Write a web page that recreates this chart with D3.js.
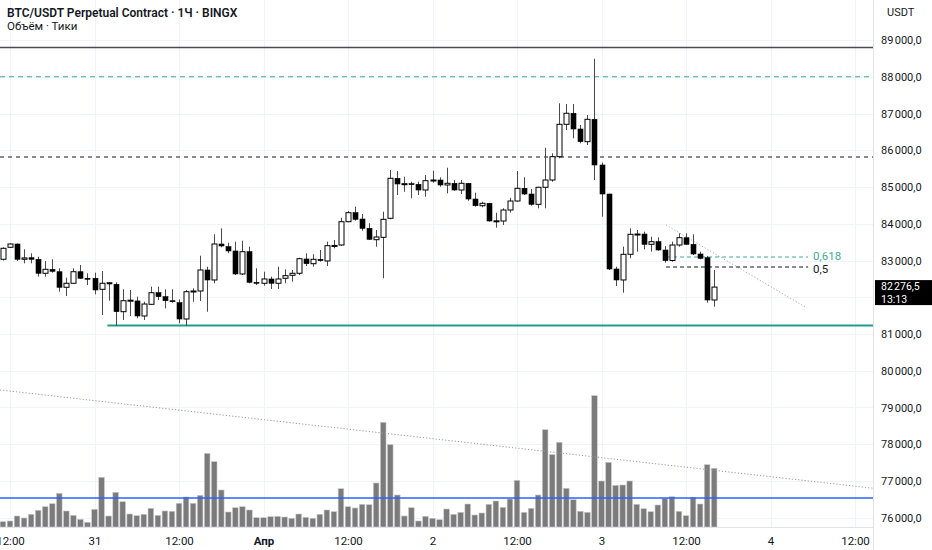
<!DOCTYPE html>
<html><head><meta charset="utf-8">
<script src="https://cdn.jsdelivr.net/npm/d3@7"></script>
<style>
body{margin:0;background:#fff;}
svg{display:block;font-family:Roboto,"Liberation Sans",sans-serif;}
</style>
</head><body>
<svg id="c" width="932" height="550"></svg>
<script>
// ---------- DATA ----------
const startTime = "2025-03-30T11:00:00Z"; // first (partially visible) hourly candle
const open  = [83033,83359,83449,83033,83076,83033,82652,82761,82695,82271,82380,82695,82516,82516,82216,82396,82353,81607,81906,81900,81490,81808,82124,82015,81906,81852,81408,82151,82170,82742,82470,83449,83377,83259,82633,83240,82407,82380,82497,82380,82516,82597,82652,83041,82913,83033,82987,83403,83422,84056,84301,84129,83876,83566,83631,84148,85237,85082,85090,85073,84918,85172,85190,85055,85101,84918,85101,84673,84491,84556,84075,84075,84374,84619,84965,84809,84529,84992,85190,85825,86706,87006,86578,86233,86842,85599,84809,82769,82470,83169,83713,83720,83441,83512,83286,83000,83422,83620,83441,83177,83076,81925];
const high  = [83360,83468,83460,83305,83196,83104,82987,83033,82788,82532,82788,82878,82652,82668,82714,82410,82407,82216,82198,82015,81879,82287,82287,82216,82216,81944,82198,82243,83131,82832,83713,83876,83485,83512,83539,83376,82788,82695,82560,82832,82761,82742,83076,83196,83169,83286,83512,83558,84165,84347,84464,84265,84012,83830,84328,85463,85435,85280,85144,85144,85327,85444,85264,85525,85190,85190,85110,84845,84600,84570,84301,84420,84709,85435,85264,84946,85008,86069,85917,87278,87259,87259,86687,86959,88490,85661,84820,82832,83376,83876,83830,83784,83648,83631,83395,83512,83740,83740,83713,83240,83123,82742];
const low   = [83000,83340,82987,82924,82924,82560,82560,82668,82151,82034,82375,82497,82333,82080,81517,81906,81218,81381,81490,81427,81381,81789,81925,81699,81852,81291,81218,81879,81898,81607,82380,83359,83196,82606,82606,82380,82333,82314,82225,82225,82380,82424,82606,82850,82832,82968,82850,83332,83395,84040,84083,83811,83558,83376,82516,84121,84782,84872,84693,84782,84736,85117,85008,84829,84899,84809,84627,84464,84448,84056,83893,83966,84301,84600,84782,84491,84420,84420,85144,85781,86551,86325,86189,86143,85190,84192,82742,82306,82124,83060,83240,83305,83240,83267,82941,82968,83376,83422,83150,83033,81852,81743];
const close = [83332,83449,83033,83070,83033,82652,82761,82706,82271,82380,82695,82516,82489,82198,82380,82361,81607,81906,81920,81490,81816,82124,82015,81906,81898,81408,82151,82170,82742,82470,83449,83395,83259,82633,83240,82407,82400,82497,82380,82497,82587,82652,83049,82913,83033,82995,83403,83410,84056,84301,84121,83876,83577,83640,84121,85237,85082,85090,85073,84918,85172,85190,85055,85101,84918,85101,84673,84491,84556,84075,84080,84374,84619,84965,84809,84529,84992,85190,85825,86706,87006,86578,86233,86842,85599,84809,82769,82470,83169,83713,83720,83441,83512,83286,82995,83422,83620,83441,83177,83060,81925,82276.5];
const volume = [5.3,6,11,9,12.7,16.7,20.3,23.3,33.7,16,11.7,7.7,4.7,17.7,49.7,11,34.7,25.3,13,11.3,12.7,18.7,11.7,16,15.7,23.7,30,23.7,31.7,73.7,65.3,37,15,19.3,20.3,17,9.3,9.3,10.3,10.7,10,8.7,13,9.7,8.7,12.7,17,15.3,38.3,20.3,19,22.7,22.3,44,104.7,82.3,32,11,19.3,6,10.7,8.7,7.3,18,12.7,14.7,23,12,14,22.7,26,19.7,28,46.7,14.7,18.7,32,97.3,72.3,84.7,38.7,27.3,15.7,14.7,131.3,46,64.7,41.7,42,46,22.7,18.3,15.3,22,28.7,30.3,15.7,11.3,29.7,23,62.3,58.7];
const priceTicks = [76000,77000,78000,79000,80000,81000,82000,83000,84000,85000,86000,87000,88000,89000];
const timeTicks = ["2025-03-30T12:00:00Z","2025-03-31T00:00:00Z","2025-03-31T12:00:00Z","2025-04-01T00:00:00Z","2025-04-01T12:00:00Z","2025-04-02T00:00:00Z","2025-04-02T12:00:00Z","2025-04-03T00:00:00Z","2025-04-03T12:00:00Z","2025-04-04T00:00:00Z","2025-04-04T12:00:00Z"];
const timeTickLabels = ["12:00","31","12:00","Апр","12:00","2","12:00","3","12:00","4","12:00"];
const hLevels = [88795, 88000, 85816];            // solid, teal dashed, black dashed
const supportLevel = {price:81230, from:"2025-03-31T01:50:00Z"};
const blueLevel = 76537;
const fibLevels = ["0,618", "0,5"];
const fibPrices = [83095, 82823];
const fibSpan = ["2025-04-03T09:10:00Z","2025-04-04T05:20:00Z"];
const trendA = {t:["2025-04-03T09:10:00Z","2025-04-04T05:10:00Z"], p:[83966, 81708]};
const trendB = {t:["2025-03-30T12:00:00Z","2025-04-04T12:00:00Z"], p:[79446, 76859]};
const lastPrice = 82276.5, countdown = "13:13";
const title = "BTC/USDT Perpetual Contract · 1Ч · BINGX";
const subtitle = "Объём · Тики";

// ---------- SETUP ----------
const W = 873, PB = 527;
const svg = d3.select("#c");
const loc = d3.formatLocale({decimal:",", thousands:"\u202f", grouping:[3], currency:["",""]});
const fmt = loc.format(",.1f");
const times = open.map((_, i) => new Date(Date.parse(startTime) + i * 3600e3));

const x = d3.scaleUtc().domain([new Date(timeTicks[0]), new Date(timeTicks[timeTicks.length-1])]).range([10, 855]);
const y = d3.scaleLinear().domain([76000, 89000]).range([517.75, 40]);
const yv = d3.scaleLinear().domain([0, 140]).range([PB, PB - 140]);

svg.append("defs").append("clipPath").attr("id","plot").append("rect").attr("x",0).attr("y",0).attr("width",W).attr("height",PB);

// grid
const grid = svg.append("g");
grid.selectAll(".hg").data(priceTicks).join("line")
  .attr("x1",0).attr("x2",W).attr("y1",d=>Math.round(y(d))+0.5).attr("y2",d=>Math.round(y(d))+0.5)
  .attr("stroke","#f0f3fa").attr("stroke-width",1);
grid.selectAll(".vg").data(timeTicks).join("line")
  .attr("x1",d=>Math.round(x(new Date(d)))+0.5).attr("x2",d=>Math.round(x(new Date(d)))+0.5)
  .attr("y1",0).attr("y2",PB).attr("stroke","#f0f3fa").attr("stroke-width",1);

const plot = svg.append("g").attr("clip-path","url(#plot)");

// volume
plot.append("g").selectAll("rect").data(volume).join("rect")
  .attr("x",(d,i)=>x(times[i]) - 2.8).attr("width",5.6)
  .attr("y",d=>yv(d)).attr("height",d=>PB - yv(d))
  .attr("fill","#7b7b7b").attr("stroke","#c8c8c8").attr("stroke-width",0.6);

// blue level
plot.append("line").attr("x1",0).attr("x2",W).attr("y1",y(blueLevel)).attr("y2",y(blueLevel))
  .attr("stroke","#2962ff").attr("stroke-width",1.6);

// trend B (long dotted)
function extLine(tr){
  const x1=x(new Date(tr.t[0])), x2=x(new Date(tr.t[1])), y1=y(tr.p[0]), y2=y(tr.p[1]);
  const s=(y2-y1)/(x2-x1);
  return [0, y1 + s*(0-x1), W, y1 + s*(W-x1)];
}
const lb = extLine(trendB);
plot.append("line").attr("x1",lb[0]).attr("y1",lb[1]).attr("x2",lb[2]).attr("y2",lb[3])
  .attr("stroke","#9a9a9a").attr("stroke-width",1).attr("stroke-dasharray","1.2,2");

// trend A (short dotted)
plot.append("line")
  .attr("x1",x(new Date(trendA.t[0]))).attr("y1",y(trendA.p[0]))
  .attr("x2",x(new Date(trendA.t[1]))).attr("y2",y(trendA.p[1]))
  .attr("stroke","#a8a8a8").attr("stroke-width",1).attr("stroke-dasharray","1.2,2");

// horizontal levels
const hStyles = [
  {stroke:"#4a4d57", w:1.6, dash:null},
  {stroke:"#3fa99a", w:1.2, dash:"5,4"},
  {stroke:"#131722", w:1.2, dash:"4,4"}
];
hLevels.forEach((p,i)=>{
  plot.append("line").attr("x1",0).attr("x2",W).attr("y1",y(p)).attr("y2",y(p))
    .attr("stroke",hStyles[i].stroke).attr("stroke-width",hStyles[i].w)
    .attr("stroke-dasharray",hStyles[i].dash);
});
plot.append("line").attr("x1",x(new Date(supportLevel.from))).attr("x2",W)
  .attr("y1",y(supportLevel.price)).attr("y2",y(supportLevel.price))
  .attr("stroke","#1f9e8a").attr("stroke-width",2);

// fib
const fibColors = ["#3fa99a","#131722"];
const fx1 = x(new Date(fibSpan[0])), fx2 = x(new Date(fibSpan[1]));
fibPrices.forEach((p,i)=>{
  plot.append("line").attr("x1",fx1).attr("x2",fx2).attr("y1",y(p)).attr("y2",y(p))
    .attr("stroke",fibColors[i]).attr("stroke-width",1).attr("stroke-dasharray","4,3");
  plot.append("text").attr("x",fx2+5).attr("y",y(p)+(i===0?2.5:5.5))
    .attr("fill",fibColors[i]).attr("font-size",11.5)
    .text(fibLevels[i]);
});

// candles
const cg = plot.append("g");
times.forEach((t,i)=>{
  const cx = Math.round(x(t)) + 0.5;
  cg.append("line").attr("x1",cx).attr("x2",cx).attr("y1",y(high[i])).attr("y2",y(low[i]))
    .attr("stroke","#4a4a4a").attr("stroke-width",1);
  const up = close[i] >= open[i];
  const top = y(Math.max(open[i],close[i])), bot = y(Math.min(open[i],close[i]));
  cg.append("rect").attr("x",cx-2.5).attr("width",5)
    .attr("y",top).attr("height",Math.max(1,bot-top))
    .attr("fill",up?"#ffffff":"#000000").attr("stroke","#000").attr("stroke-width",up?1:0.6);
});

// axes frame
svg.append("line").attr("x1",W+0.5).attr("x2",W+0.5).attr("y1",0).attr("y2",550).attr("stroke","#e0e3eb");
svg.append("line").attr("x1",0).attr("x2",W).attr("y1",PB+0.5).attr("y2",PB+0.5).attr("stroke","#e0e3eb");

// right axis (tick labels hidden under the last-price label are skipped, as in the reference)
const ly = y(lastPrice);
const visibleTicks = priceTicks.filter(p => Math.abs(y(p) - (ly + 5)) > 16);
const ra = svg.append("g").attr("transform",`translate(${W},0)`)
  .call(d3.axisRight(y).tickValues(visibleTicks).tickSize(0).tickPadding(8).tickFormat(fmt));
ra.select(".domain").remove();
ra.selectAll("text").attr("font-size",11).attr("fill","#131722").attr("font-family","Roboto,'Liberation Sans',sans-serif");
svg.append("text").attr("x",887).attr("y",16).attr("font-size",11).attr("fill","#131722").text("USDT");

// last price label
svg.append("rect").attr("x",W+2).attr("y",ly-7).attr("width",60).attr("height",25).attr("fill","#000");
svg.append("text").attr("x",W+8).attr("y",ly+3).attr("font-size",10.5).attr("fill","#fff").text(fmt(lastPrice));
svg.append("text").attr("x",W+8).attr("y",ly+15.5).attr("font-size",10.5).attr("fill","#fff").text(countdown);

// bottom axis
const ba = svg.append("g").attr("transform",`translate(0,${PB})`)
  .call(d3.axisBottom(x).tickValues(timeTicks.map(d=>new Date(d))).tickSize(0).tickPadding(10)
    .tickFormat((d,i)=>timeTickLabels[i]));
ba.select(".domain").remove();
ba.selectAll("text").attr("font-size",11.5).attr("fill","#131722")
  .attr("font-family","Roboto,'Liberation Sans',sans-serif")
  .attr("font-weight",(d,i)=>timeTickLabels[i]==="Апр"?"bold":"normal");

// header
svg.append("text").attr("x",7).attr("y",17).attr("font-size",12).attr("font-weight",600).attr("fill","#131722").text(title);
svg.append("text").attr("x",7).attr("y",30).attr("font-size",11.5).attr("fill","#131722").text(subtitle);
</script>
</body></html>
